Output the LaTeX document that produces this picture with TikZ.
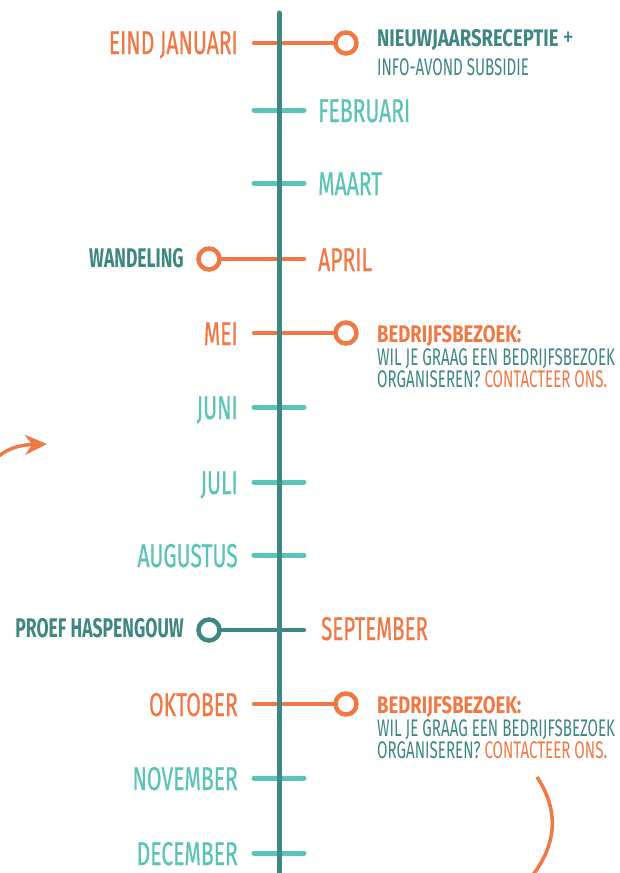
\documentclass[tikz,border=0pt]{standalone}
\usepackage{fontspec}
\setmainfont{Fira Sans}
\usepackage{graphicx}
\usetikzlibrary{arrows.meta}
\definecolor{org}{HTML}{F07844}
\definecolor{dteal}{HTML}{3E8782}
\definecolor{lteal}{HTML}{5CC4B7}
\newcommand{\cnd}[2][0.64]{\scalebox{#1}[1]{#2}}
\tikzset{
  mon/.style={font=\fontsize{33}{33}\selectfont\addfontfeatures{FakeBold=0.8}, inner sep=0},
  monL/.style={mon, anchor=base east},
  monR/.style={mon, anchor=base west},
  body/.style={font=\fontsize{24}{24}\selectfont, inner sep=0, anchor=base west},
  tag/.style={font=\fontsize{27}{27}\selectfont\bfseries, inner sep=0, anchor=base east, text=dteal},
  tick/.style={line width=5pt, line cap=round},
  conn/.style={line width=4.5pt, line cap=round},
  dot/.style={circle, minimum size=21pt, inner sep=0, line width=4.5pt, fill=white},
}
\begin{document}
\begin{tikzpicture}[x=1pt,y=-1pt]
\useasboundingbox (0,0) rectangle (620,873);
% axis coordinates
\coordinate (top) at (279,13);
\coordinate (bot) at (279,880);
% row end points
\foreach \n/\y in {1/43,2/110,3/183,4/259,5/333,6/407,7/482,8/555,9/630,10/704,11/778,12/853}{
  \coordinate (l\n) at (254,\y);
  \coordinate (r\n) at (304,\y);
}
% event circles
\node[dot, draw=org] (e1) at (346,43) {};
\node[dot, draw=org] (e4) at (209,259) {};
\node[dot, draw=org] (e5) at (346,333) {};
\node[dot, draw=dteal] (e9) at (209,630) {};
\node[dot, draw=org] (e10) at (346,704) {};
% connectors
\draw[conn, org] (l1) -- (e1);
\draw[conn, org] (e4) -- (r4);
\draw[conn, org] (l5) -- (e5);
\draw[conn, dteal] (e9) -- (r9);
\draw[conn, org] (l10) -- (e10);
\foreach \n in {2,3,6,7,8,11,12}{
  \draw[tick, lteal] (l\n) -- (r\n);
}
\draw[line width=5pt, dteal, line cap=round] (top) -- (bot);
% month labels
\node[monL, text=org] (m1) at (238,54) {\cnd{EIND JANUARI}};
\node[monR, text=lteal] (m2) at (318,122) {\cnd{FEBRUARI}};
\node[monR, text=lteal] (m3) at (318,195) {\cnd{MAART}};
\node[monR, text=org] (m4) at (318,271) {\cnd{APRIL}};
\node[monL, text=org] (m5) at (238,345) {\cnd{MEI}};
\node[monL, text=lteal] (m6) at (238,419) {\cnd{JUNI}};
\node[monL, text=lteal] (m7) at (238,494) {\cnd{JULI}};
\node[monL, text=lteal] (m8) at (238,567) {\cnd{AUGUSTUS}};
\node[monR, text=org] (m9) at (321,640) {\cnd[0.62]{SEPTEMBER}};
\node[monL, text=org] (m10) at (238,716) {\cnd{OKTOBER}};
\node[monL, text=lteal] (m11) at (238,790) {\cnd{NOVEMBER}};
\node[monL, text=lteal] (m12) at (238,865) {\cnd{DECEMBER}};
% event texts
\node[body, text=dteal] (t1a) at (377,46) {\cnd[0.77]{\bfseries NIEUWJAARSRECEPTIE}\,\cnd[0.8]{\fontsize{28}{28}\selectfont +}};
\node[body, text=dteal] (t1b) at (377,75) {\cnd[0.63]{INFO-AVOND SUBSIDIE}};
\node[tag] (t4) at (184,267) {\cnd[0.65]{WANDELING}};
\node[tag] (t9) at (184,637) {\cnd[0.65]{PROEF HASPENGOUW}};
\node[body, text=org] (t5a) at (377,342) {\cnd[0.77]{\bfseries BEDRIJFSBEZOEK:}};
\node[body, text=dteal] (t5b) at (377,365) {\cnd[0.63]{WIL JE GRAAG EEN BEDRIJFSBEZOEK}};
\node[body, text=dteal] (t5c) at (377,387) {\cnd[0.63]{ORGANISEREN? \textcolor{org}{CONTACTEER ONS.}}};
\node[body, text=org] (t10a) at (377,713) {\cnd[0.77]{\bfseries BEDRIJFSBEZOEK:}};
\node[body, text=dteal] (t10b) at (377,736) {\cnd[0.63]{WIL JE GRAAG EEN BEDRIJFSBEZOEK}};
\node[body, text=dteal] (t10c) at (377,758) {\cnd[0.63]{ORGANISEREN? \textcolor{org}{CONTACTEER ONS.}}};
% decorative arrow and arc
\coordinate (a0) at (-6,460);
\coordinate (a1) at (47,444);
\draw[org, line width=3.5pt, -{Stealth[length=22pt,width=20pt,inset=7pt]}] (a0) .. controls (6,449) and (18,445) .. (a1);
\coordinate (b0) at (537,777);
\coordinate (b1) at (532,876);
\draw[org, line width=3.5pt] (b0) .. controls (560,812) and (556,845) .. (b1);
\end{tikzpicture}
\end{document}
